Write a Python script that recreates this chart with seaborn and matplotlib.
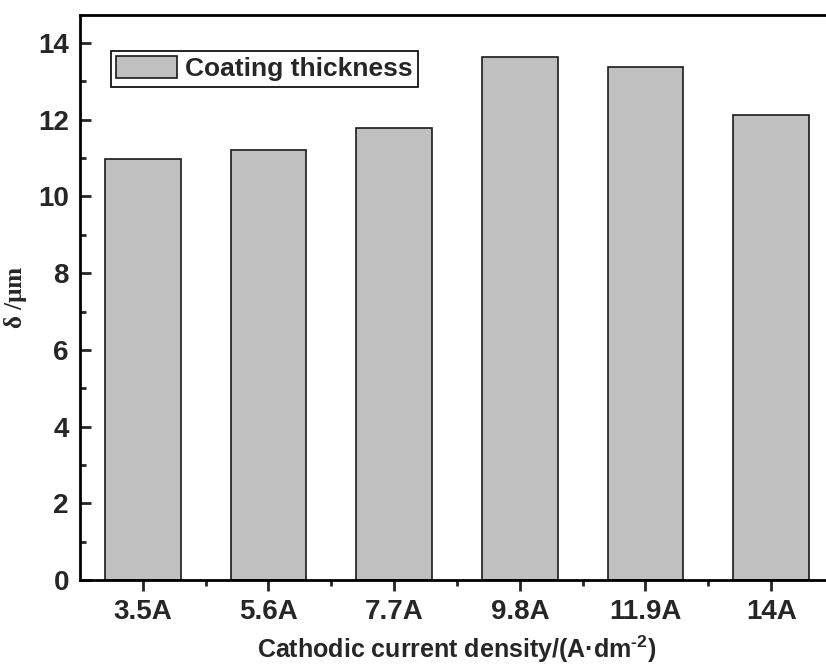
import matplotlib
matplotlib.use("Agg")
import matplotlib.pyplot as plt
import seaborn as sns
import pandas as pd
from matplotlib.ticker import MultipleLocator, FixedLocator
from matplotlib.patches import Patch

categories = ["3.5A", "5.6A", "7.7A", "9.8A", "11.9A", "14A"]
thickness = [10.97, 11.2, 11.78, 13.63, 13.37, 12.12]

sns.set_style("ticks")
plt.rcParams['font.family'] = ['Liberation Sans', 'DejaVu Sans']
plt.rcParams['font.weight'] = 'bold'
plt.rcParams['mathtext.fontset'] = 'custom'
plt.rcParams['mathtext.rm'] = 'Liberation Sans:bold'
plt.rcParams['mathtext.bf'] = 'Liberation Sans:bold'
plt.rcParams['mathtext.it'] = 'Liberation Sans:bold'

df = pd.DataFrame({"cat": categories, "val": thickness})

fig = plt.figure(figsize=(8.26, 6.66), dpi=100)
W, H = 826, 666
ax = fig.add_axes([80 / W, 1 - 580 / H, (834 - 80) / W, (580 - 15) / H])

sns.barplot(data=df, x="cat", y="val", ax=ax, color="#c0c0c0", width=0.6,
            edgecolor="#1a1a1a", linewidth=1.2, saturation=1)

ax.set_xlim(-0.5, 5.5)
ax.set_ylim(0, 14.73)
ax.yaxis.set_major_locator(MultipleLocator(2))
ax.yaxis.set_minor_locator(MultipleLocator(1))
ax.xaxis.set_minor_locator(FixedLocator([0.5, 1.5, 2.5, 3.5, 4.5]))

for s in ax.spines.values():
    s.set_linewidth(2)
    s.set_color("black")

ax.tick_params(axis='y', which='major', direction='in', length=8, width=2, pad=8, labelsize=20)
ax.tick_params(axis='y', which='minor', direction='in', length=4, width=2)
ax.tick_params(axis='x', which='major', direction='out', length=8, width=2, pad=6, labelsize=20)
ax.tick_params(axis='x', which='minor', direction='out', length=4, width=2)
for lab in ax.get_xticklabels() + ax.get_yticklabels():
    lab.set_fontweight('bold')

ax.set_xlabel("Cathodic current density/(A·dm$^{\\text{-}2}$)", fontsize=18, fontweight='bold', labelpad=6)
ax.set_ylabel("δ /μm", fontsize=18, fontweight='bold', family=['Liberation Serif', 'DejaVu Serif'], labelpad=8)

handle = Patch(facecolor="#c0c0c0", edgecolor="#1a1a1a", linewidth=1.2)
leg = ax.legend([handle], ["Coating thickness"], loc='upper left',
                bbox_to_anchor=(31 / 754, 1 - 36 / 565), fancybox=False, framealpha=1,
                edgecolor='black', prop={'size': 19, 'weight': 'bold'},
                handlelength=2.3, handleheight=0.9, borderpad=0.2, handletextpad=0.3,
                borderaxespad=0)
leg.get_frame().set_linewidth(1.2)

fig.savefig("out.png", dpi=100)
